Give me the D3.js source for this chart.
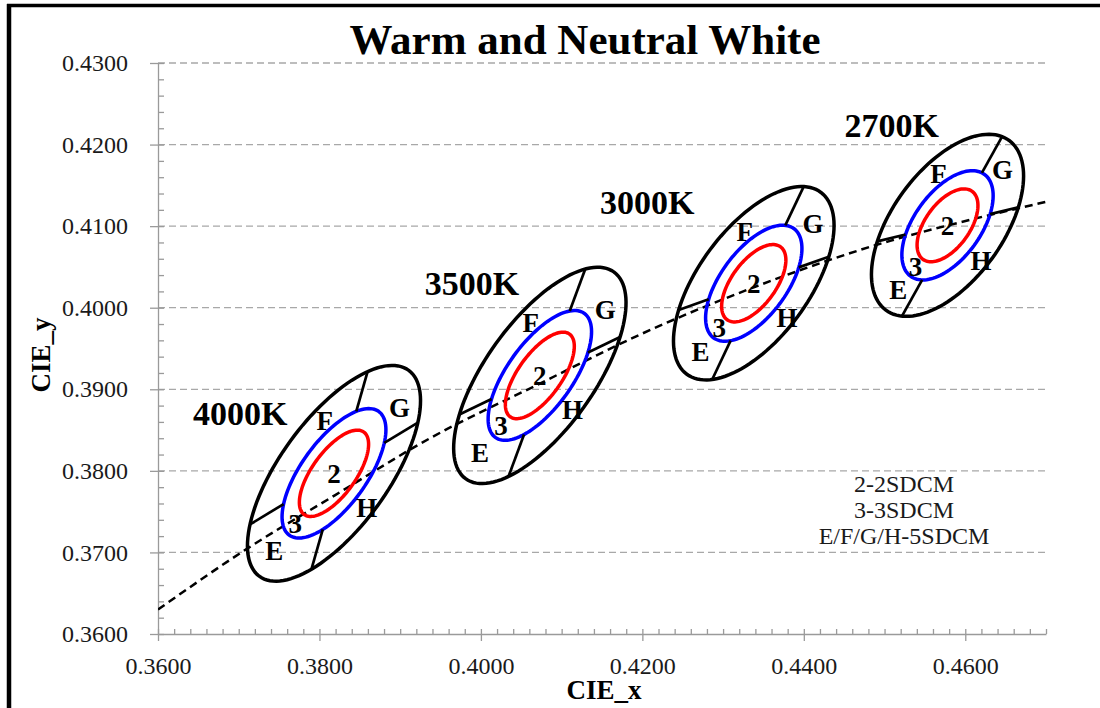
<!DOCTYPE html>
<html>
<head>
<meta charset="utf-8">
<script src="https://cdn.jsdelivr.net/npm/d3@7"></script>
<style>
  body { margin: 0; background: #fff; }
  svg { display: block; }
  text { font-family: "Liberation Serif", "Times New Roman", serif; }
</style>
</head>
<body>
<div id="chart"></div>
<script>
// MacAdam ellipses (1-step size), one entry per CCT
var cctNames = ["4000K", "3500K", "3000K", "2700K"];
var centerX = [0.3818, 0.4073, 0.4338, 0.4578];
var centerY = [0.3797, 0.3917, 0.4030, 0.4101];
var axisA = [0.00313, 0.00313, 0.00278, 0.00258];
var axisB = [0.00134, 0.00134, 0.00136, 0.00137];
var tiltDeg = [53.72, 54.0, 53.22, 53.7];

// E/F/G/H divider lines: crossing point and the two line angles
var crossX = [0.3825, 0.4082, 0.4344, 0.4586];
var crossY = [0.3801, 0.3921, 0.4032, 0.4104];
var locusLineDeg = [31, 25.5, 19.3, 13.4];
var isoLineDeg = [74, 69.5, 64.4, 60.6];

// where the CCT names sit
var cctLabelX = [0.3702, 0.3989, 0.4206, 0.4509];
var cctLabelY = [0.3856, 0.4016, 0.4115, 0.4209];

// SDCM steps drawn for every ellipse
var steps = [5, 3, 2];
var stepColors = ["#000000", "#0000ff", "#ff0000"];

// planckian locus (dashed)
var locusX = [0.3600, 0.3711, 0.3819, 0.3937, 0.4073, 0.4197, 0.4338, 0.4507, 0.4599, 0.4701];
var locusY = [0.3630, 0.3705, 0.3770, 0.3840, 0.3907, 0.3967, 0.4025, 0.4082, 0.4106, 0.4130];

var xTicks = [0.36, 0.38, 0.40, 0.42, 0.44, 0.46];
var yTicks = [0.36, 0.37, 0.38, 0.39, 0.40, 0.41, 0.42, 0.43];
var legendLines = ["2-2SDCM", "3-3SDCM", "E/F/G/H-5SDCM"];

// zone letters: angle (deg) from ellipse centre and radius in SDCM steps
var zoneNames = ["E", "F", "G", "H", "3", "2"];
var zoneAngle = [232, 100, 45, -46, 232, 0];
var zoneStep = [3.85, 3.8, 3.85, 4.3, 2.5, 0];

var W = 1100, H = 708;
var svg = d3.select("#chart").append("svg")
  .attr("width", W)
  .attr("height", H);

var x = d3.scaleLinear().domain([0.36, 0.47]).range([158, 1046]);
var y = d3.scaleLinear().domain([0.36, 0.43]).range([634, 63]);
var rad = Math.PI / 180;

// outer frame (only left and top show)
svg.append("line").attr("x1", 9).attr("y1", 4).attr("x2", 9).attr("y2", H)
  .attr("stroke", "#000").attr("stroke-width", 4.5);
svg.append("line").attr("x1", 7).attr("y1", 5.5).attr("x2", W).attr("y2", 5.5)
  .attr("stroke", "#000").attr("stroke-width", 3.5);

// title
svg.append("text")
  .attr("x", 585).attr("y", 54)
  .attr("text-anchor", "middle")
  .attr("font-size", 43).attr("font-weight", "bold")
  .text("Warm and Neutral White");

// gridlines
svg.append("g").selectAll("line")
  .data(yTicks.filter(function(d) { return d > 0.36; }))
  .enter().append("line")
  .attr("x1", x(0.36)).attr("x2", x(0.47))
  .attr("y1", function(d) { return y(d); })
  .attr("y2", function(d) { return y(d); })
  .attr("stroke", "#a8a8a8")
  .attr("stroke-width", 1.3)
  .attr("stroke-dasharray", "7,4");

// axes
var fmt = d3.format(".4f");
var xMinor = d3.range(0, 56).map(function(i) { return 0.36 + i * 0.002; });
var yMinor = d3.range(0, 36).map(function(i) { return 0.36 + i * 0.002; });

function styleAxis(g) {
  g.selectAll("path, line").attr("stroke", "#9a9a9a").attr("stroke-width", 1.3);
  g.selectAll("text").attr("font-size", 24).attr("fill", "#1a1a1a")
    .attr("font-family", "Liberation Serif, serif");
}

svg.append("g").attr("transform", "translate(0," + y(0.36) + ")")
  .call(d3.axisBottom(x).tickValues(xMinor).tickSize(-5).tickSizeOuter(0).tickFormat(""))
  .call(styleAxis);
svg.append("g").attr("transform", "translate(0," + y(0.36) + ")")
  .call(d3.axisBottom(x).tickValues(xTicks).tickSize(7).tickSizeOuter(0).tickPadding(16).tickFormat(fmt))
  .call(styleAxis)
  .select(".domain").remove();

svg.append("g").attr("transform", "translate(" + x(0.36) + ",0)")
  .call(d3.axisLeft(y).tickValues(yMinor).tickSize(-6).tickSizeOuter(0).tickFormat(""))
  .call(styleAxis);
svg.append("g").attr("transform", "translate(" + x(0.36) + ",0)")
  .call(d3.axisLeft(y).tickValues(yTicks).tickSize(8).tickSizeOuter(0).tickPadding(22).tickFormat(fmt))
  .call(styleAxis)
  .select(".domain").remove();

// axis titles
svg.append("text")
  .attr("x", 604).attr("y", 699)
  .attr("text-anchor", "middle")
  .attr("font-size", 27).attr("font-weight", "bold")
  .text("CIE_x");
svg.append("text")
  .attr("transform", "translate(50,355) rotate(-90)")
  .attr("text-anchor", "middle")
  .attr("font-size", 27).attr("font-weight", "bold")
  .text("CIE_y");

// clip for the locus
svg.append("clipPath").attr("id", "plotClip")
  .append("rect")
  .attr("x", x(0.36)).attr("y", y(0.43))
  .attr("width", x(0.47) - x(0.36)).attr("height", y(0.36) - y(0.43));

var locusPts = locusX.map(function(d, i) { return [d, locusY[i]]; });
svg.append("path")
  .datum(locusPts)
  .attr("clip-path", "url(#plotClip)")
  .attr("d", d3.line()
    .x(function(d) { return x(d[0]); })
    .y(function(d) { return y(d[1]); })
    .curve(d3.curveMonotoneX))
  .attr("fill", "none")
  .attr("stroke", "#000")
  .attr("stroke-width", 2.5)
  .attr("stroke-dasharray", "8,5");

// ellipse helpers (data units)
function ellipsePoints(i, k) {
  var th = tiltDeg[i] * rad, pts = [];
  for (var t = 0; t < 360; t += 3) {
    var c = Math.cos(t * rad), s = Math.sin(t * rad);
    pts.push([
      centerX[i] + k * (axisA[i] * c * Math.cos(th) - axisB[i] * s * Math.sin(th)),
      centerY[i] + k * (axisA[i] * c * Math.sin(th) + axisB[i] * s * Math.cos(th))
    ]);
  }
  return pts;
}

// distance along ray from point (px,py) with angle phi to ellipse i of step k
function rayHit(i, k, px, py, phi) {
  var th = tiltDeg[i] * rad;
  var A = axisA[i] * k, B = axisB[i] * k;
  var dx = px - centerX[i], dy = py - centerY[i];
  var p1 = (dx * Math.cos(th) + dy * Math.sin(th)) / A;
  var p2 = (-dx * Math.sin(th) + dy * Math.cos(th)) / B;
  var q1 = Math.cos(phi - th) / A;
  var q2 = Math.sin(phi - th) / B;
  var qq = q1 * q1 + q2 * q2, pq = p1 * q1 + p2 * q2, pp = p1 * p1 + p2 * p2;
  return (-pq + Math.sqrt(pq * pq - qq * (pp - 1))) / qq;
}

var ellipseLine = d3.line()
  .x(function(d) { return x(d[0]); })
  .y(function(d) { return y(d[1]); })
  .curve(d3.curveLinearClosed);

cctNames.forEach(function(name, i) {
  var g = svg.append("g").attr("class", "ellipse-group");

  steps.forEach(function(k, j) {
    g.append("path")
      .attr("d", ellipseLine(ellipsePoints(i, k)))
      .attr("fill", "none")
      .attr("stroke", stepColors[j])
      .attr("stroke-width", 3.5);
  });

  // E/F/G/H dividers between the 3 and 5 step ellipses
  var angles = [locusLineDeg[i], locusLineDeg[i] + 180, isoLineDeg[i], isoLineDeg[i] + 180];
  angles.forEach(function(a) {
    var phi = a * rad;
    var t3 = rayHit(i, 3, crossX[i], crossY[i], phi);
    var t5 = rayHit(i, 5, crossX[i], crossY[i], phi);
    g.append("line")
      .attr("x1", x(crossX[i] + t3 * Math.cos(phi)))
      .attr("y1", y(crossY[i] + t3 * Math.sin(phi)))
      .attr("x2", x(crossX[i] + t5 * Math.cos(phi)))
      .attr("y2", y(crossY[i] + t5 * Math.sin(phi)))
      .attr("stroke", "#000")
      .attr("stroke-width", 2.7);
  });

  // zone letters
  zoneNames.forEach(function(z, j) {
    var phi = zoneAngle[j] * rad;
    var r = zoneStep[j] > 0 ? rayHit(i, 1, centerX[i], centerY[i], phi) * zoneStep[j] : 0;
    g.append("text")
      .attr("x", x(centerX[i] + r * Math.cos(phi)))
      .attr("y", y(centerY[i] + r * Math.sin(phi)))
      .attr("dy", "0.35em")
      .attr("text-anchor", "middle")
      .attr("font-size", 27).attr("font-weight", "bold")
      .text(z);
  });

  svg.append("text")
    .attr("x", x(cctLabelX[i]))
    .attr("y", y(cctLabelY[i]))
    .attr("text-anchor", "middle")
    .attr("font-size", 34).attr("font-weight", "bold")
    .text(name);
});

// legend note
svg.append("g").selectAll("text")
  .data(legendLines)
  .enter().append("text")
  .attr("x", 904)
  .attr("y", function(d, i) { return 492 + i * 26; })
  .attr("text-anchor", "middle")
  .attr("font-size", 24)
  .attr("fill", "#1a1a1a")
  .text(function(d) { return d; });
</script>
</body>
</html>
